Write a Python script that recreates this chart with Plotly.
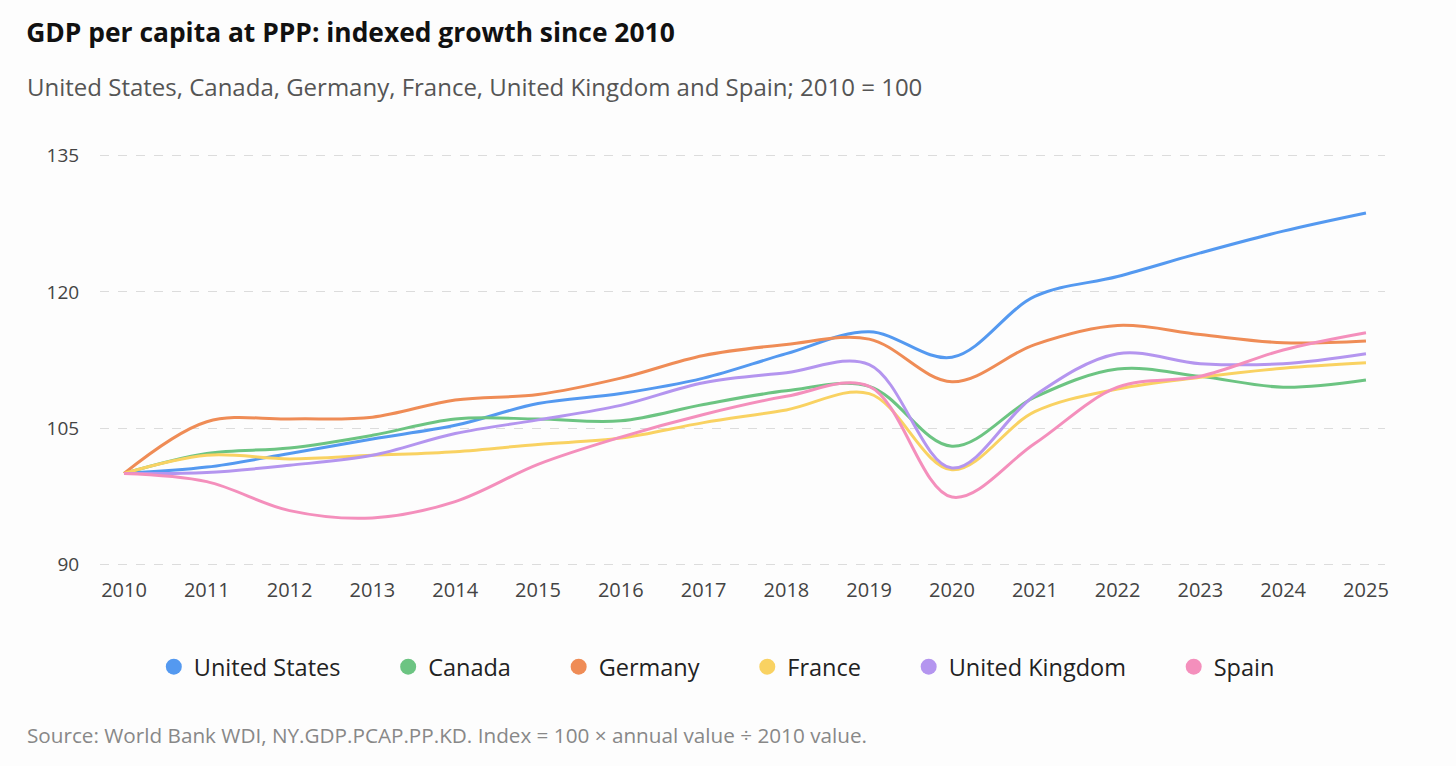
import plotly.graph_objects as go

# Indexed GDP per capita, PPP (2010 = 100)
years = list(range(2010, 2026))

united_states = [100, 100.7, 102.2, 103.8, 105.3, 107.7, 108.8, 110.5, 113.2, 115.6, 112.8, 119.5, 121.7, 124.3, 126.7, 128.7]
canada = [100, 102.2, 102.8, 104.2, 106.0, 106.0, 105.8, 107.6, 109.1, 109.6, 103.0, 108.4, 111.5, 110.7, 109.5, 110.3]
germany = [100, 105.7, 106.0, 106.2, 108.1, 108.7, 110.5, 113.0, 114.2, 114.8, 110.1, 114.2, 116.3, 115.3, 114.4, 114.6]
france = [100, 102.0, 101.6, 102.0, 102.4, 103.2, 103.9, 105.6, 107.0, 108.8, 100.4, 106.8, 109.3, 110.6, 111.6, 112.2]
united_kingdom = [100, 100.1, 100.9, 102.0, 104.4, 105.9, 107.5, 110.0, 111.1, 112.0, 100.6, 108.6, 113.2, 112.1, 112.1, 113.2]
spain = [100, 99.1, 95.9, 95.1, 96.9, 101.0, 104.0, 106.5, 108.5, 109.6, 97.4, 103.3, 109.5, 110.7, 113.6, 115.5]

series = [
    ("United States", united_states, "#5499f0"),
    ("Canada", canada, "#6cc482"),
    ("Germany", germany, "#ef8c56"),
    ("France", france, "#f9d262"),
    ("United Kingdom", united_kingdom, "#b495ef"),
    ("Spain", spain, "#f48fbc"),
]

y_ticks = [90, 105, 120, 135]

FONT = "Open Sans"
PAD = "\u00a0" * 7

fig = go.Figure()

for name, vals, color in series:
    fig.add_trace(go.Scatter(
        x=years, y=vals, name=name, mode="lines",
        line=dict(color=color, width=3, shape="spline", smoothing=1),
        showlegend=False,
        hovertemplate=name + ": %{y:.1f}<extra></extra>",
    ))

# legend entries drawn as round dots
for i, (name, vals, color) in enumerate(series):
    label = name + (PAD if i < len(series) - 1 else "")
    fig.add_trace(go.Scatter(
        x=[None], y=[None], name=label, mode="markers",
        marker=dict(color=color, size=17, symbol="circle"),
        showlegend=True,
    ))

fig.update_layout(
    width=1456, height=766,
    paper_bgcolor="#fdfdfd", plot_bgcolor="#fdfdfd",
    margin=dict(l=100, r=71, t=154, b=200),
    font=dict(family=FONT, color="#444"),
    title=dict(
        text="<b>GDP per capita at PPP: indexed growth since 2010</b>",
        x=0.018, xanchor="left", y=0.957, yanchor="middle",
        font=dict(size=26.4, color="#111", family=FONT),
    ),
    showlegend=True,
    legend=dict(
        orientation="h", x=0.48, xanchor="center", y=-0.245, yanchor="middle",
        font=dict(size=23.5, color="#222", family=FONT),
        bgcolor="rgba(0,0,0,0)",
    ),
    annotations=[
        dict(
            text="United States, Canada, Germany, France, United Kingdom and Spain; 2010 = 100",
            xref="paper", yref="paper", x=-0.058, y=1.165, xanchor="left", yanchor="middle",
            showarrow=False, font=dict(size=24, color="#555", family=FONT),
        ),
        dict(
            text="Source: World Bank WDI, NY.GDP.PCAP.PP.KD. Index = 100 × annual value ÷ 2010 value.",
            xref="paper", yref="paper", x=-0.058, y=-0.41, xanchor="left", yanchor="middle",
            showarrow=False, font=dict(size=20.7, color="#888", family=FONT),
        ),
    ],
)

fig.update_xaxes(
    range=[2009.71, 2025.23], tickmode="array", tickvals=years,
    showgrid=False, zeroline=False, showline=False,
    ticks="outside", ticklen=6, tickcolor="rgba(0,0,0,0)",
    tickfont=dict(size=20, color="#444"),
)
fig.update_yaxes(
    range=[89.8, 135.2], tickmode="array", tickvals=y_ticks,
    showgrid=True, gridcolor="#dcdcdc", griddash="dash", gridwidth=1,
    zeroline=False, showline=False, ticks="outside", ticklen=16, tickcolor="rgba(0,0,0,0)",
    tickfont=dict(size=19, color="#444"),
)

fig.write_html("out.html", config={"displayModeBar": False},
               post_script="document.body.style.margin='0';")
